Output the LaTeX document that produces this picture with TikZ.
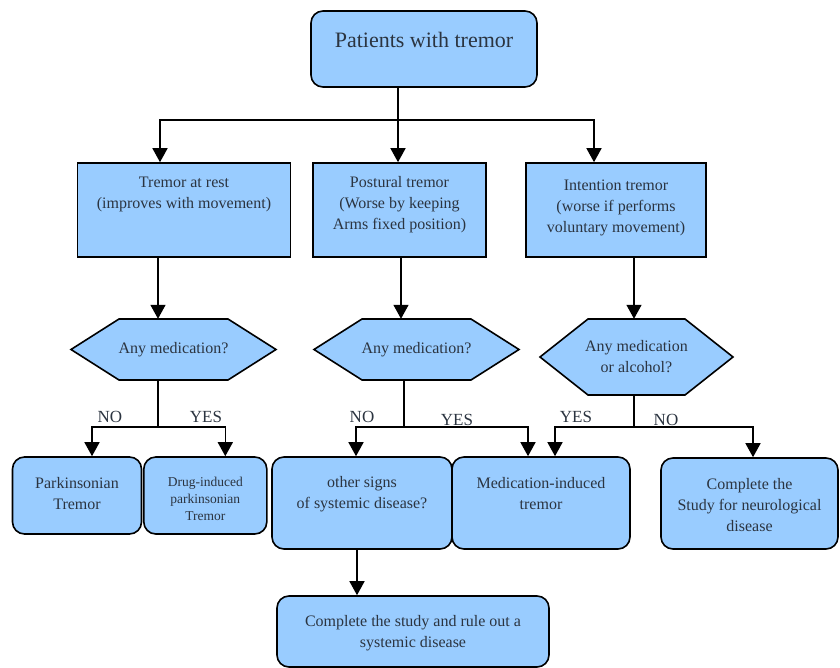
\documentclass[tikz,border=0pt]{standalone}
\usepackage{fontspec}
\setmainfont{Liberation Serif}
\newfontfamily\boxface{Liberation Serif}
\usetikzlibrary{arrows.meta,positioning}

\definecolor{boxblue}{HTML}{99CCFF}
\definecolor{inkgray}{HTML}{2B3440}

\tikzset{
    sqbox/.style={draw, line width=1.6pt, fill=boxblue, inner sep=0pt},
    rndbox/.style={sqbox, rounded corners=12pt},
    hexline/.style={draw, line width=1.6pt, fill=boxblue, line join=miter},
    txt/.style={text=inkgray, align=center, font=\boxface\fontsize{16}{21}\selectfont},
    smalltxt/.style={txt, font=\boxface\fontsize{13.5}{17}\selectfont},
    lbl/.style={text=inkgray, font=\boxface\fontsize{17}{20}\selectfont},
    flow/.style={line width=1.5pt},
    arr/.style={flow, -{Triangle[width=15pt,length=14pt]}},
}

% hexagon question: name, x, y, width, height, text
\newcommand{\question}[6]{%
    \filldraw[hexline] ({#2-#4/2},#3) -- ({#2-#4/2+48},{#3-#5/2}) -- ({#2+#4/2-48},{#3-#5/2})
        -- ({#2+#4/2},#3) -- ({#2+#4/2-48},{#3+#5/2}) -- ({#2-#4/2+48},{#3+#5/2}) -- cycle;
    \node[txt, minimum width=#4pt, minimum height=#5pt, inner sep=0pt] (#1) at (#2,#3) {#6};
}

\begin{document}
\begin{tikzpicture}[x=1pt, y=-1pt]
    \useasboundingbox (0,0) rectangle (840,668);

    % Start box
    \node[rndbox, minimum width=226pt, minimum height=76pt] (pat) at (424,49) {};
    \node[txt, font=\boxface\fontsize{22}{26}\selectfont] (pat-t) at (424,40) {Patients with tremor};

    % Three kinds of tremor
    \node[sqbox, minimum width=213pt, minimum height=94pt] (rest) at (184,210) {};
    \node[txt] (rest-t) at (184,194) {Tremor at rest\\(improves with movement)};

    \node[sqbox, minimum width=173pt, minimum height=94pt] (post) at (399.5,210) {};
    \node[txt] (post-t) at (399.5,205) {Postural tremor\\(Worse by keeping\\Arms fixed position)};

    \node[sqbox, minimum width=180pt, minimum height=94pt] (intn) at (616,210) {};
    \node[txt] (intn-t) at (616,208) {Intention tremor\\(worse if performs\\voluntary movement)};

    % Questions
    \question{hx1}{173.5}{349.5}{205}{61}{Any medication?}
    \question{hx2}{416.5}{349.5}{205}{61}{Any medication?}
    \question{hx3}{636.5}{357}{193}{76}{Any medication\\or alcohol?}

    % Outcomes
    \node[rndbox, minimum width=129pt, minimum height=77pt] (park) at (77,495.5) {};
    \node[txt] (park-t) at (77,494) {Parkinsonian\\Tremor};

    \node[rndbox, minimum width=123pt, minimum height=77pt] (drug) at (205.3,495.5) {};
    \node[smalltxt] (drug-t) at (205.3,499) {Drug-induced\\parkinsonian\\Tremor};

    \node[rndbox, minimum width=180pt, minimum height=92pt] (other) at (362,503) {};
    \node[txt] (other-t) at (362,494) {other signs\\of systemic disease?};

    \node[rndbox, minimum width=178pt, minimum height=92pt] (medind) at (541,503) {};
    \node[txt] (medind-t) at (541,494) {Medication-induced\\tremor};

    \node[rndbox, minimum width=177pt, minimum height=91pt] (comp) at (749.5,503.5) {};
    \node[txt] (comp-t) at (749.5,505) {Complete the\\Study for neurological\\disease};

    \node[rndbox, minimum width=272pt, minimum height=71pt] (final) at (413,631.5) {};
    \node[txt] (final-t) at (413,633) {Complete the study and rule out a\\systemic disease};

    % Split under the start box
    \coordinate (top) at (398,120);
    \draw[flow] (pat.south -| top) -- (top);
    \draw[arr] (top) -| ([xshift=-24pt]rest.north);
    \draw[arr] (top) -- (top |- post.north);
    \draw[arr] (top) -| ([xshift=-22pt]intn.north);

    % Tremor boxes to questions
    \draw[arr] ([xshift=-26pt]rest.south) -- ([xshift=-26pt]rest.south |- hx1.north);
    \draw[arr] ([xshift=1.5pt]post.south) -- ([xshift=1.5pt]post.south |- hx2.north);
    \draw[arr] ([xshift=18pt]intn.south) -- ([xshift=18pt]intn.south |- hx3.north);

    % Answers
    \coordinate (j1) at (158,427);
    \coordinate (j2) at (404,427);
    \coordinate (j3) at (634,427);
    \draw[flow] (hx1.south -| j1) -- (j1);
    \draw[flow] (hx2.south -| j2) -- (j2);
    \draw[flow] (hx3.south -| j3) -- (j3);

    \draw[arr] (j1) -| ([xshift=15pt]park.north);
    \draw[arr] (j1) -| ([xshift=20pt]drug.north);
    \draw[arr] (j2) -| ([xshift=-6pt]other.north);
    \draw[arr] (j2) -| ([xshift=-13pt]medind.north);
    \draw[arr] (j3) -| ([xshift=14pt]medind.north);
    \draw[arr] (j3) -| ([xshift=3.5pt]comp.north);

    \node[lbl] (no1) at (110,417) {NO};
    \node[lbl] (yes1) at (206,417) {YES};
    \node[lbl] (no2) at (362,417) {NO};
    \node[lbl] (yes2) at (457,420) {YES};
    \node[lbl] (yes3) at (576,417) {YES};
    \node[lbl] (no3) at (666,420) {NO};

    % Last step
    \draw[arr] ([xshift=-5pt]other.south) -- ([xshift=-5pt]other.south |- final.north);

\end{tikzpicture}
\end{document}
